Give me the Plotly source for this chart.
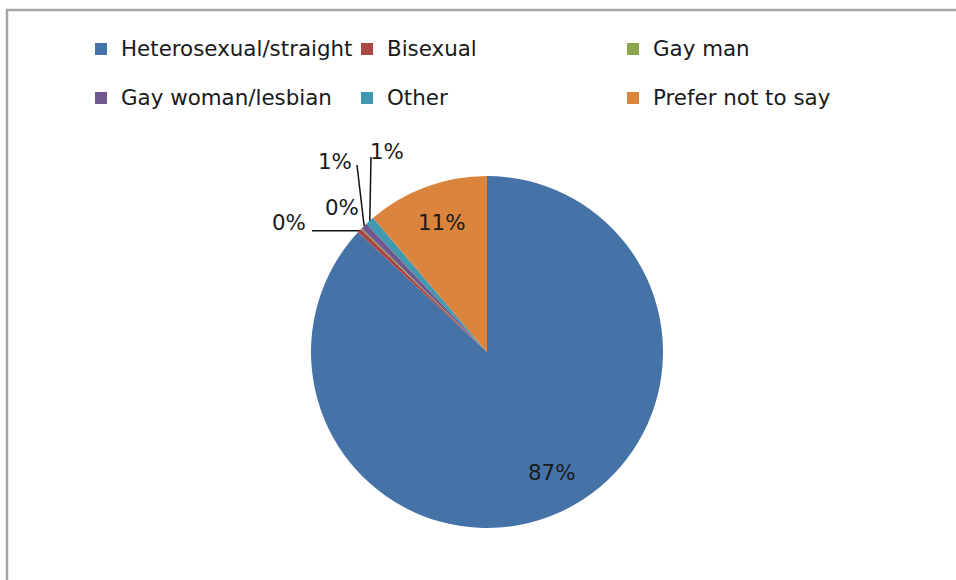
import math
import plotly.graph_objects as go

# sexuality breakdown, shares in percent
categories = ["Heterosexual/straight", "Bisexual", "Gay man",
              "Gay woman/lesbian", "Other", "Prefer not to say"]
shares = [86.9, 0.4, 0.1, 0.6, 0.8, 11.2]
colors = ["#4572A7", "#AA4643", "#89A54E", "#71588F", "#4198AF", "#DB843D"]

W, H = 956, 580
CX, CY, R = 487, 352, 176
FONT = "DejaVu Sans"
TEXT_SIZE = 21.4

# pixel centre of each slice's percentage label
label_pos = [(552, 472), (289, 222), (342, 207), (335, 161), (387, 151), (442, 222)]
# where each leader line starts (None = no line); "h" = horizontal line from x
leader_start = [None, ("h", 312), None, (357, 165), (371, 157), None]


def px(x, y):
    return x / W, 1 - y / H


# the trailing blank line makes each legend row taller, like the original spacing
legend_names = [f'<span style="font-size:{TEXT_SIZE}px">{c}</span><br>&nbsp;' for c in categories]

fig = go.Figure()
fig.add_trace(go.Pie(
    labels=legend_names,
    values=shares,
    sort=False,
    direction="clockwise",
    rotation=0,
    marker=dict(colors=colors, line=dict(width=0)),
    textinfo="none",
    hoverinfo="label+percent",
    domain=dict(x=[(CX - R) / W, (CX + R) / W], y=[1 - (CY + R) / H, 1 - (CY - R) / H]),
))

total = sum(shares)
shapes = []
annotations = []
cum = 0
for i, v in enumerate(shares):
    mid = (cum + v / 2) / total * 2 * math.pi
    cum += v
    lx, ly = label_pos[i]
    annotations.append(dict(
        text=f"{round(v / total * 100)}%", x=lx / W, y=1 - ly / H,
        xref="paper", yref="paper", xanchor="center", yanchor="middle",
        showarrow=False,
        font=dict(family=FONT, size=TEXT_SIZE, color="#1a1a1a"),
    ))
    start = leader_start[i]
    if start is None:
        continue
    ex = CX + R * math.sin(mid)
    ey = CY - R * math.cos(mid)
    if start[0] == "h":
        start = (start[1], ey)
    x0, y0 = px(*start)
    x1, y1 = px(ex, ey)
    shapes.append(dict(type="line", xref="paper", yref="paper",
                       x0=x0, y0=y0, x1=x1, y1=y1,
                       line=dict(color="#111111", width=1.5)))

# chart frame (only top and left edges are in view)
shapes.append(dict(type="rect", xref="paper", yref="paper", layer="below",
                   x0=7 / W, y0=-0.2, x1=1.2, y1=1 - 10 / H,
                   line=dict(color="#A6A6A6", width=2.5)))

fig.update_layout(
    width=W,
    height=H,
    margin=dict(l=0, r=0, t=0, b=0),
    paper_bgcolor="white",
    plot_bgcolor="white",
    showlegend=True,
    legend=dict(
        orientation="h",
        x=81 / W,
        y=1 - 31 / H,
        xanchor="left",
        yanchor="top",
        entrywidth=221,
        entrywidthmode="pixels",
        valign="top",
        font=dict(family=FONT, size=17.7, color="#1a1a1a"),
        bgcolor="rgba(0,0,0,0)",
    ),
    shapes=shapes,
    annotations=annotations,
)

fig.write_html("out.html", config={"displayModeBar": False},
               post_script="document.body.style.margin='0';")
